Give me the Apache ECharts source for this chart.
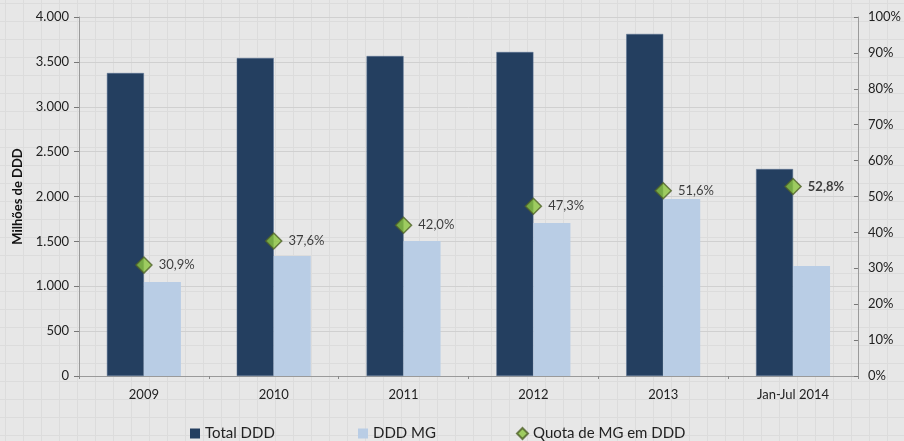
<!DOCTYPE html>
<html>
<head>
<meta charset="utf-8">
<script src="https://cdn.jsdelivr.net/npm/echarts@6/dist/echarts.min.js"></script>
<style>
    html, body { margin: 0; padding: 0; }
    body {
        width: 904px; height: 441px;
        background-color: #e7e7e7;
        background-image:
            linear-gradient(to right, #dcdcdc 1px, transparent 1px),
            linear-gradient(to bottom, #dcdcdc 1px, transparent 1px);
        background-size: 18px 18px;
        background-position: 5px 3px;
    }
    #chart { width: 904px; height: 441px; }
</style>
</head>
<body>
<div id="chart"></div>
<script>
const categories = ['2009', '2010', '2011', '2012', '2013', 'Jan-Jul 2014'];
const totalDDD = [3376, 3543, 3565, 3610, 3811, 2306];
const dddMG = [1047, 1337, 1504, 1705, 1972, 1226];
const quotaMG = [30.9, 37.6, 42.0, 47.3, 51.6, 52.8];

const font = 'Lato, "Open Sans", sans-serif';
const chart = echarts.init(document.getElementById('chart'));

const fmtThousands = v => String(v).replace(/\B(?=(\d{3})+(?!\d))/g, '.');
const legendText = { fontSize: 15, color: '#222', fontFamily: font };

const option = {
    backgroundColor: 'transparent',
    animation: false,
    textStyle: { fontFamily: font },
    grid: { left: 79, right: 42, top: 17, bottom: 65 },
    legend: [
        {
            left: 185, top: 421, itemWidth: 10, itemHeight: 10,
            itemStyle: { borderWidth: 0 },
            textStyle: legendText,
            data: [{ name: 'Total DDD', icon: 'rect' }]
        },
        {
            left: 353, top: 421, itemWidth: 10, itemHeight: 10,
            itemStyle: { borderWidth: 0 },
            textStyle: legendText,
            data: [{ name: 'DDD MG', icon: 'rect' }]
        },
        {
            left: 511, top: 421, itemWidth: 11, itemHeight: 11,
            textStyle: legendText,
            data: [{ name: 'Quota de MG em DDD', icon: 'diamond' }]
        }
    ],
    xAxis: {
        type: 'category',
        data: categories,
        axisLine: { lineStyle: { color: '#9a9a9a' } },
        axisTick: { show: true, length: 3, lineStyle: { color: '#888' } },
        axisLabel: { color: '#222', fontSize: 13, margin: 12 }
    },
    yAxis: [
        {
            type: 'value',
            min: 0,
            max: 4000,
            interval: 500,
            name: 'Milhões de DDD',
            nameLocation: 'middle',
            nameGap: 55,
            nameTextStyle: { fontWeight: 'bold', fontSize: 13, color: '#111' },
            axisLine: { show: true, lineStyle: { color: '#9a9a9a' } },
            axisTick: { show: true, length: 5, lineStyle: { color: '#777' } },
            axisLabel: { color: '#222', fontSize: 13, margin: 10, formatter: fmtThousands },
            splitLine: { lineStyle: { color: '#d0d0d0' } }
        },
        {
            type: 'value',
            min: 0,
            max: 100,
            interval: 10,
            position: 'right',
            axisLine: { show: true, lineStyle: { color: '#9a9a9a' } },
            axisTick: { show: true, inside: true, length: 4, lineStyle: { color: '#777' } },
            axisLabel: { color: '#222', fontSize: 13, margin: 10, formatter: '{value}%' },
            splitLine: { show: false }
        }
    ],
    series: [
        {
            name: 'Total DDD',
            type: 'bar',
            data: totalDDD,
            barWidth: 37,
            barGap: '0%',
            itemStyle: { color: '#243f60', borderColor: '#5a7293', borderWidth: 0.5 }
        },
        {
            name: 'DDD MG',
            type: 'bar',
            data: dddMG,
            barWidth: 37,
            itemStyle: { color: '#b9cde5' }
        },
        {
            name: 'Quota de MG em DDD',
            type: 'scatter',
            yAxisIndex: 1,
            data: quotaMG.map((v, i) => i === quotaMG.length - 1
                ? { value: v, label: { fontWeight: 'bold' } }
                : v),
            symbol: 'diamond',
            symbolSize: 16,
            itemStyle: { color: '#8cc63e', borderColor: '#4f6228', borderWidth: 1.5 },
            label: {
                show: true,
                position: 'right',
                distance: 6,
                color: '#111',
                fontSize: 13,
                formatter: p => p.value.toFixed(1).replace('.', ',') + '%'
            },
            z: 5
        }
    ]
};

chart.setOption(option);

window.addEventListener('resize', _ => {
    chart.resize();
});
</script>
</body>
</html>
